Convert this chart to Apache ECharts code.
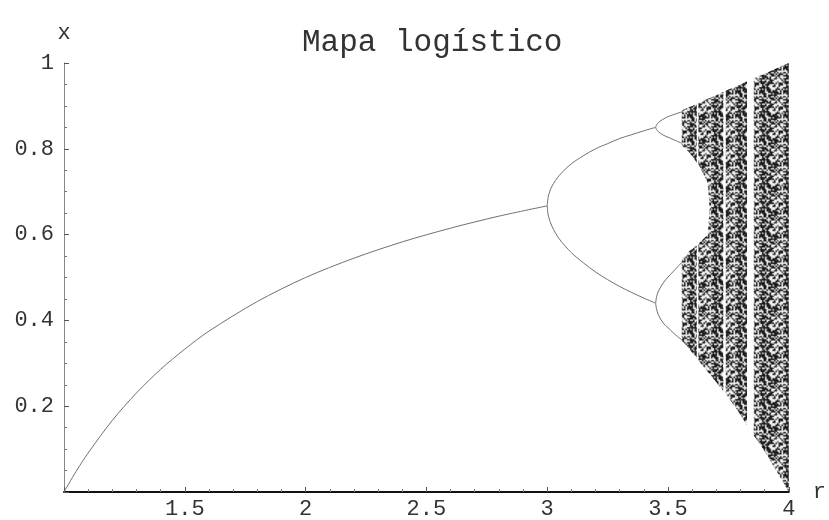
<!DOCTYPE html>
<html>
<head>
<meta charset="utf-8">
<script src="https://cdn.jsdelivr.net/npm/echarts@6/dist/echarts.min.js"></script>
<style>
  html, body { margin: 0; padding: 0; background: #fff; }
  #chart { width: 829px; height: 520px; }
</style>
</head>
<body>
<div id="chart"></div>
<script>
// Stable fixed point, r from 1 to 3
const periodOneR = [1, 1.05, 1.1, 1.2, 1.3, 1.4, 1.5, 1.6, 1.8, 2, 2.2, 2.4, 2.6, 2.8, 3];
const periodOneX = [0, 0.048, 0.091, 0.167, 0.231, 0.286, 0.333, 0.375, 0.444, 0.5, 0.545, 0.583, 0.615, 0.643, 0.667];

// Period-2 cycle, r from 3 to about 3.45
const periodTwoR     = [3, 3.005, 3.02, 3.05, 3.1, 3.15, 3.2, 3.25, 3.3, 3.35, 3.4, 3.449];
const periodTwoUpper = [0.667, 0.690, 0.713, 0.738, 0.765, 0.784, 0.800, 0.812, 0.824, 0.833, 0.842, 0.850];
const periodTwoLower = [0.667, 0.643, 0.619, 0.590, 0.558, 0.534, 0.513, 0.495, 0.479, 0.465, 0.452, 0.440];

// Period-4 cycle, r from about 3.45 to the onset of chaos
const periodFourR  = [3.449, 3.452, 3.46, 3.48, 3.5, 3.52, 3.54, 3.557];
const periodFourA  = [0.850, 0.855, 0.861, 0.869, 0.875, 0.879, 0.883, 0.886];
const periodFourB  = [0.850, 0.845, 0.840, 0.832, 0.827, 0.822, 0.817, 0.813];
const periodFourC  = [0.440, 0.453, 0.468, 0.487, 0.501, 0.513, 0.525, 0.535];
const periodFourD  = [0.440, 0.428, 0.413, 0.394, 0.383, 0.372, 0.362, 0.355];

// Chaotic region: upper and lower envelope of the attractor
const chaosR    = [3.557, 3.57, 3.6, 3.65, 3.7, 3.75, 3.8, 3.85, 3.9, 3.95, 4.0];
const chaosHigh = [0.889, 0.893, 0.900, 0.913, 0.925, 0.938, 0.950, 0.963, 0.975, 0.988, 1.0];
const chaosLow  = [0.350, 0.345, 0.325, 0.290, 0.256, 0.220, 0.180, 0.135, 0.095, 0.048, 0.0];

// Sparse gap between the two merging bands just after the onset of chaos
const gapR = [3.55, 3.59, 3.63, 3.665, 3.672, 3.665, 3.62, 3.585, 3.55];
const gapX = [0.812, 0.790, 0.760, 0.720, 0.660, 0.600, 0.575, 0.560, 0.536];

// Periodic windows inside the chaotic region [r start, r end]
const periodicWindows = [[3.619, 3.626], [3.729, 3.739], [3.827, 3.855]];

// Axis ticks
const rTicks = [1, 1.5, 2, 2.5, 3, 3.5, 4];
const xTicks = [0, 0.2, 0.4, 0.6, 0.8, 1];

const zip = (a, b) => a.map((v, i) => [v, b[i]]);

// Speckled fill for the dense chaotic band
const GRAIN = [
  "#.##.#..##.#.##.",
  "##.#.###.#..#.##",
  ".#..##.#.##.#.#.",
  "#.##.#.##..###.#",
  "##..#.##.#.#..##",
  ".#.##.#..##.#.#.",
  "#.#..###.#.##.##",
  "##.##.#.#..#.#..",
  ".##.#..##.##.#.#",
  "#..##.#.#.#.###.",
  "##.#.##..##.#.##",
  ".#.#.#.##.#..#.#",
  "#.##..#.#.###.#.",
  "##.#.##.#..#.##.",
  ".#..#.#.###.#.##",
  "#.##.#.#..#.##.#"
];
function grainPattern() {
  const n = GRAIN.length, cells = 48, scale = 1.5, size = cells * scale;
  // one pixel per grain cell, then enlarged with smoothing for soft specks
  const raw = document.createElement('canvas');
  raw.width = raw.height = cells + 2;
  const g = raw.getContext('2d');
  g.fillStyle = '#f0f0f0';
  g.fillRect(0, 0, cells + 2, cells + 2);
  for (let j = -1; j <= cells; j++) {
    for (let i = -1; i <= cells; i++) {
      const ii = (i + cells) % cells, jj = (j + cells) % cells;
      const a = GRAIN[jj % n][ii % n] === '#';
      const b = GRAIN[(ii + 7 * jj) % n][(3 * jj + ii + 5) % n] === '#';
      if (a !== b || (a && (ii + jj) % 4 === 0)) {
        g.fillStyle = (ii * 3 + jj) % 5 === 0 ? '#4a4a4a' : '#161616';
        g.fillRect(i + 1, j + 1, 1, 1);
      }
    }
  }
  const soft = document.createElement('canvas');
  soft.width = soft.height = size;
  const s = soft.getContext('2d');
  s.imageSmoothingEnabled = true;
  s.drawImage(raw, 1, 1, cells, cells, 0, 0, size, size);
  return { image: soft, repeat: 'repeat' };
}

const shapes = [];
shapes.push({
  pts: zip(chaosR, chaosHigh).concat(zip(chaosR, chaosLow).reverse()),
  fill: grainPattern()
});
shapes.push({ pts: zip(gapR, gapX), fill: '#ffffff' });
periodicWindows.forEach(([a, b]) => {
  shapes.push({ pts: [[a, 0.01], [b, 0.01], [b, 1.01], [a, 1.01]], fill: '#ffffff' });
});

const mono = 'Liberation Mono, DejaVu Sans Mono, monospace';
const lineStyle = { color: '#707070', width: 1 };
function branch(r, x) {
  return {
    type: 'line', data: zip(r, x), showSymbol: false, smooth: 0.3,
    lineStyle, silent: true, z: 3
  };
}

const chart = echarts.init(document.getElementById('chart'), null, { renderer: 'canvas' });
chart.setOption({
  animation: false,
  backgroundColor: '#fff',
  title: {
    text: 'Mapa logístico',
    left: 297, top: 22,
    textStyle: { fontFamily: mono, fontSize: 31, fontWeight: 'normal', color: '#333' }
  },
  grid: { left: 64, right: 36, top: 63, bottom: 27 },
  xAxis: {
    type: 'value', min: rTicks[0], max: rTicks[rTicks.length - 1], interval: 0.5,
    name: 'r', nameLocation: 'end', nameGap: 24,
    nameTextStyle: { fontFamily: mono, fontSize: 22, color: '#333', verticalAlign: 'middle' },
    axisLine: { show: true, lineStyle: { color: '#111', width: 2 } },
    axisTick: { show: true, inside: true, length: 5, lineStyle: { color: '#555' } },
    minorTick: { show: true, splitNumber: 5, length: 3, lineStyle: { color: '#777' } },
    splitLine: { show: false },
    axisLabel: {
      showMinLabel: false, margin: 6,
      fontFamily: mono, fontSize: 22, color: '#333',
      formatter: v => String(+v.toFixed(1))
    }
  },
  yAxis: {
    type: 'value', min: xTicks[0], max: xTicks[xTicks.length - 1], interval: 0.2,
    name: 'x', nameLocation: 'end', nameGap: 19,
    nameTextStyle: { fontFamily: mono, fontSize: 22, color: '#333', align: 'center' },
    axisLine: { show: true, lineStyle: { color: '#888', width: 1 } },
    axisTick: { show: true, inside: true, length: 5, lineStyle: { color: '#555' } },
    minorTick: { show: true, splitNumber: 4, length: 3, lineStyle: { color: '#777' } },
    splitLine: { show: false },
    axisLabel: {
      showMinLabel: false, margin: 10,
      fontFamily: mono, fontSize: 22, color: '#333',
      formatter: v => String(+v.toFixed(1))
    }
  },
  series: [
    {
      type: 'custom', silent: true, z: 2, clip: true,
      data: shapes.map((s, i) => [i]),
      encode: { x: -1, y: -1 },
      renderItem: (params, api) => {
        const s = shapes[params.dataIndex];
        return {
          type: 'polygon',
          shape: { points: s.pts.map(p => api.coord(p)) },
          style: { fill: s.fill }
        };
      }
    },
    branch(periodOneR, periodOneX),
    branch(periodTwoR, periodTwoUpper),
    branch(periodTwoR, periodTwoLower),
    branch(periodFourR, periodFourA),
    branch(periodFourR, periodFourB),
    branch(periodFourR, periodFourC),
    branch(periodFourR, periodFourD)
  ]
});
</script>
</body>
</html>
